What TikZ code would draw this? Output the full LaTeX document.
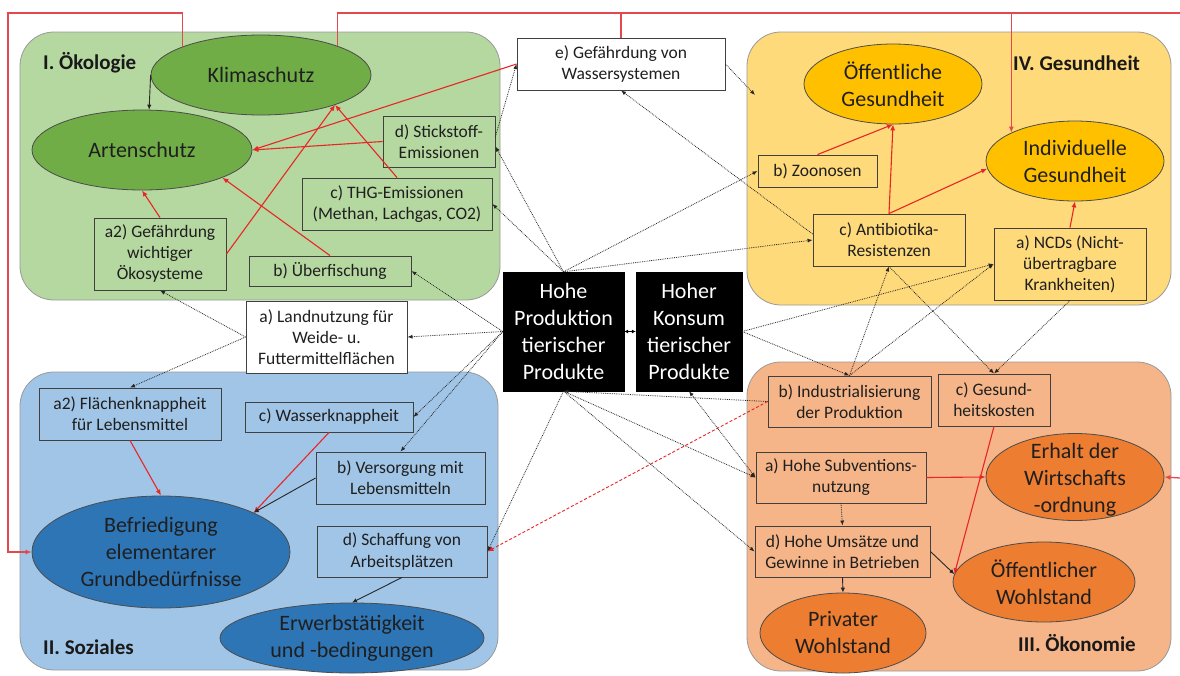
\documentclass[tikz,border=0pt]{standalone}
\usepackage{fontspec}
\setmainfont{Carlito}
\usetikzlibrary{arrows.meta,shapes.geometric}

\definecolor{ecoPanel}{RGB}{181,215,160}
\definecolor{ecoEll}{RGB}{112,173,71}
\definecolor{healthPanel}{RGB}{255,218,122}
\definecolor{healthEll}{RGB}{255,192,0}
\definecolor{socPanel}{RGB}{161,197,231}
\definecolor{socEll}{RGB}{46,117,182}
\definecolor{econPanel}{RGB}{245,181,136}
\definecolor{econEll}{RGB}{237,125,49}
\definecolor{arrowRed}{RGB}{232,38,38}
\definecolor{loopRed}{RGB}{226,72,76}

\newcommand{\fntBox}{\fontsize{17.5}{21}\selectfont}
\newcommand{\fntEll}{\fontsize{22}{27}\selectfont}
\newcommand{\fntHead}{\fontsize{21}{25}\selectfont\bfseries}

\begin{document}
\begin{tikzpicture}[x=1pt,y=-1pt,
  panel/.style={draw=black!40, line width=0.8pt, rounded corners=34pt},
  box/.style={draw=black!75, line width=0.9pt, inner sep=0pt, align=center, font=\fntBox, text=black!88},
  darkbox/.style={fill=black, draw=black, inner sep=0pt, align=center, font=\fntEll, text=white},
  ellnode/.style={ellipse, draw=black!70, line width=0.8pt, inner sep=0pt},
  elltext/.style={inner sep=0pt, align=center, font=\fntEll, text=black!88},
  head/.style={anchor=west, inner sep=0pt, font=\fntHead, text=black!90},
  redarr/.style={draw=arrowRed, line width=1.1pt, -{Latex[length=6pt,width=5pt]}},
  loopline/.style={draw=loopRed, line width=1.3pt},
  looparr/.style={loopline, -{Latex[length=6pt,width=5pt]}},
  reddash/.style={draw=arrowRed, line width=0.9pt, densely dashed, -{Latex[length=6pt,width=5pt]}},
  blkarr/.style={draw=black!85, line width=0.9pt, -{Latex[length=5pt,width=4.5pt]}},
  dotarr/.style={draw=black!85, line width=0.8pt, densely dotted, -{Latex[length=5pt,width=4pt]}},
  dotboth/.style={draw=black!85, line width=0.8pt, densely dotted, {Latex[length=5pt,width=4pt]}-{Latex[length=5pt,width=4pt]}},
  tinyboth/.style={draw=black, line width=0.7pt, {Latex[length=4pt,width=4pt]}-{Latex[length=4pt,width=4pt]}},
]
\useasboundingbox (0,0) rectangle (1180,675);
\fill[white] (0,0) rectangle (1180,675);

% ---- four topic panels ----
\draw[panel, fill=ecoPanel]    (20,32)  rectangle (500,300);
\draw[panel, fill=healthPanel] (747,32) rectangle (1171,305);
\draw[panel, fill=socPanel]    (20,372) rectangle (498,670);
\draw[panel, fill=econPanel]   (747,362) rectangle (1171,671);

\node[head] (hEco)    at (43,63)   {I. Ökologie};
\node[head] (hHealth) at (1013,63) {IV. Gesundheit};
\node[head] (hSoc)    at (43,647)  {II. Soziales};
\node[head] (hEcon)   at (1018,643) {III. Ökonomie};

% ---- I. Ökologie ----
\node[ellnode, fill=ecoEll, minimum width=220pt, minimum height=80pt] (klima) at (261,75) {};
\node[elltext] (klimaT) at (klima) {Klimaschutz};
\node[ellnode, fill=ecoEll, minimum width=220pt, minimum height=80pt] (arten) at (142,150) {};
\node[elltext] (artenT) at (arten) {Artenschutz};
\node[box, fill=ecoPanel, minimum width=112pt, minimum height=51pt] (stick) at (439,141.5) {d) Stickstoff-\\Emissionen};
\node[box, fill=ecoPanel, minimum width=190pt, minimum height=52pt] (thg) at (397,204) {c) THG-Emissionen\\(Methan, Lachgas, CO2)};
\node[box, fill=ecoPanel, minimum width=132pt, minimum height=72pt] (oeko) at (160,254) {a2) Gefährdung\\wichtiger\\Ökosysteme};
\node[box, fill=ecoPanel, minimum width=162pt, minimum height=30pt] (fisch) at (330,271) {b) Überfischung};

% ---- free-standing boxes ----
\node[box, fill=white, minimum width=208pt, minimum height=52pt] (wasser) at (621,64) {e) Gefährdung von\\Wassersystemen};
\node[box, fill=white, minimum width=161pt, minimum height=72pt] (land) at (326.5,337) {a) Landnutzung für\\Weide- u.\\Futtermittelflächen};

% ---- central drivers ----
\node[darkbox, minimum width=121pt, minimum height=119pt] (hohe) at (563.5,331.5) {Hohe\\Produktion\\tierischer\\Produkte};
\node[darkbox, minimum width=106pt, minimum height=119pt] (hoher) at (689,331.5) {Hoher\\Konsum\\tierischer\\Produkte};

% ---- IV. Gesundheit ----
\node[ellnode, fill=healthEll, minimum width=178pt, minimum height=80pt] (oeff) at (893,84) {};
\node[elltext] (oeffT) at (oeff) {Öffentliche\\Gesundheit};
\node[ellnode, fill=healthEll, minimum width=178pt, minimum height=80pt] (indiv) at (1075,161) {};
\node[elltext] (indivT) at (indiv) {Individuelle\\Gesundheit};
\node[box, fill=healthPanel, minimum width=119pt, minimum height=32pt] (zoon) at (817.5,171) {b) Zoonosen};
\node[box, fill=healthPanel, minimum width=152pt, minimum height=52pt] (anti) at (889,240) {c) Antibiotika-\\Resistenzen};
\node[box, fill=healthPanel, minimum width=152pt, minimum height=72pt] (ncd) at (1070,264) {a) NCDs (Nicht-\\übertragbare\\Krankheiten)};

% ---- II. Soziales ----
\node[box, fill=socPanel, minimum width=182pt, minimum height=52pt] (flaech) at (130,414) {a2) Flächenknappheit\\für Lebensmittel};
\node[box, fill=socPanel, minimum width=168pt, minimum height=30pt] (wk) at (329,417) {c) Wasserknappheit};
\node[box, fill=socPanel, minimum width=169pt, minimum height=52pt] (vers) at (400.5,478) {b) Versorgung mit\\Lebensmitteln};
\node[box, fill=socPanel, minimum width=170pt, minimum height=51pt] (arb) at (402,551.5) {d) Schaffung von\\Arbeitsplätzen};
\node[ellnode, fill=socEll, minimum width=258pt, minimum height=112pt] (befr) at (161,552) {};
\node[elltext] (befrT) at (befr) {Befriedigung\\elementarer\\Grundbedürfnisse};
\node[ellnode, fill=socEll, minimum width=264pt, minimum height=70pt] (erwerb) at (352,638) {};
\node[elltext] (erwerbT) at (erwerb) {Erwerbstätigkeit\\und -bedingungen};

% ---- III. Ökonomie ----
\node[box, fill=econPanel, minimum width=163pt, minimum height=51pt] (indu) at (849.5,401.5) {b) Industrialisierung\\der Produktion};
\node[box, fill=econPanel, minimum width=112pt, minimum height=52pt] (gk) at (994,400) {c) Gesund-\\heitskosten};
\node[box, fill=econPanel, minimum width=170pt, minimum height=51pt] (subv) at (841,477.5) {a) Hohe Subventions-\\nutzung};
\node[box, fill=econPanel, minimum width=175pt, minimum height=51pt] (ums) at (842.5,551.5) {d) Hohe Umsätze und\\Gewinne in Betrieben};
\node[ellnode, fill=econEll, minimum width=178pt, minimum height=87pt] (erhalt) at (1075,477) {};
\node[elltext] (erhaltT) at (1075,480) {Erhalt der\\Wirtschafts\\-ordnung};
\node[ellnode, fill=econEll, minimum width=182pt, minimum height=80pt] (oeffw) at (1044,582) {};
\node[elltext] (oeffwT) at (oeffw) {Öffentlicher\\Wohlstand};
\node[ellnode, fill=econEll, minimum width=166pt, minimum height=80pt] (priv) at (843,633) {};
\node[elltext] (privT) at (priv) {Privater\\Wohlstand};

% ---- feedback loops along the frame ----
\coordinate (cornerL) at (8,13);
\coordinate (cornerR) at (1180,13);
\coordinate (edgeR) at (1180,478);
\coordinate (ygate) at (755,95);
\draw[looparr] (klima.160) |- (cornerL) |- (befr.west);
\draw[loopline] (klima.21) |- (cornerR);
\draw[loopline] (wasser.north) -- (wasser.north |- cornerR);
\draw[looparr] (indiv.156 |- cornerR) -- (indiv.156);
\draw[looparr] (edgeR) -- (erhalt.east);

% ---- red effect arrows ----
\draw[redarr] (oeko.north) -- (arten.south);
\draw[redarr] (oeko.east) -- (klima.-22);
\draw[redarr] (thg.north) -- (klima.-22);
\draw[redarr] (fisch.north) -- (arten.-19);
\draw[redarr] (stick.west) -- (arten.east);
\draw[redarr] (wasser.west) -- (arten.east);
\draw[redarr] (zoon.north) -- (oeff.south);
\draw[redarr] (anti.north) -- (oeff.south);
\draw[redarr] (anti.north) -- (indiv.185);
\draw[redarr] (ncd.north) -- (indiv.south);
\draw[redarr] (subv.east) -- (erhalt.west);
\draw[redarr] (gk.south) -- (oeffw.175);
\draw[redarr] (flaech.south) -- (befr.north);
\draw[redarr] (wk.south) -- (befr.23);
\draw[reddash] (indu.west) -- (arb.east);

% ---- black effect arrows ----
\draw[blkarr] (klima.west) -- (arten.80);
\draw[blkarr] (vers.west) -- (befr.23);
\draw[blkarr] (arb.south) -- (erwerb.north);
\draw[blkarr] (ums.south) -- (priv.north);
\draw[blkarr] (ums.east) -- (oeffw.175);

% ---- dotted cause links ----
\draw[tinyboth] (hohe.east) -- (hoher.west);
\draw[dotarr] (hohe.north) -- ([yshift=-5pt]stick.east);
\draw[dotarr] (hohe.north) -- (thg.east);
\draw[dotarr] (hohe.north) -- (zoon.west);
\draw[dotarr] (hohe.north) -- (anti.west);
\draw[dotarr] ([yshift=5pt]stick.east) -- (wasser.west);
\draw[dotarr] ([yshift=6pt]anti.west) -- (wasser.south);
\draw[dotarr] (wasser.east) -- (ygate);
\draw[dotarr] (hohe.west) -- (fisch.east);
\draw[dotarr] (hohe.west) -- (land.east);
\draw[dotarr] (hohe.west) -- (wk.east);
\draw[dotarr] (hohe.west) -- (vers.north);
\draw[dotarr] (land.west) -- (oeko.south);
\draw[dotarr] (land.west) -- (flaech.north);
\draw[dotarr] (hohe.south) -- (arb.east);
\draw[dotarr] (hohe.south) -- (subv.west);
\draw[dotarr] (hohe.south) -- (ums.west);
\draw[dotarr] (indu.west) -- (hohe.south);
\draw[dotboth] (hoher.south) -- (subv.west);
\draw[dotarr] (hoher.east) -- (ncd.west);
\draw[dotarr] (hoher.east) -- (indu.north);
\draw[dotarr] (indu.north) -- (anti.south);
\draw[dotarr] (indu.north) -- (ncd.west);
\draw[dotarr] (anti.south) -- (gk.north);
\draw[dotarr] (ncd.south) -- (gk.north);
\draw[dotarr] (subv.south) -- (ums.north);
\end{tikzpicture}
\end{document}
